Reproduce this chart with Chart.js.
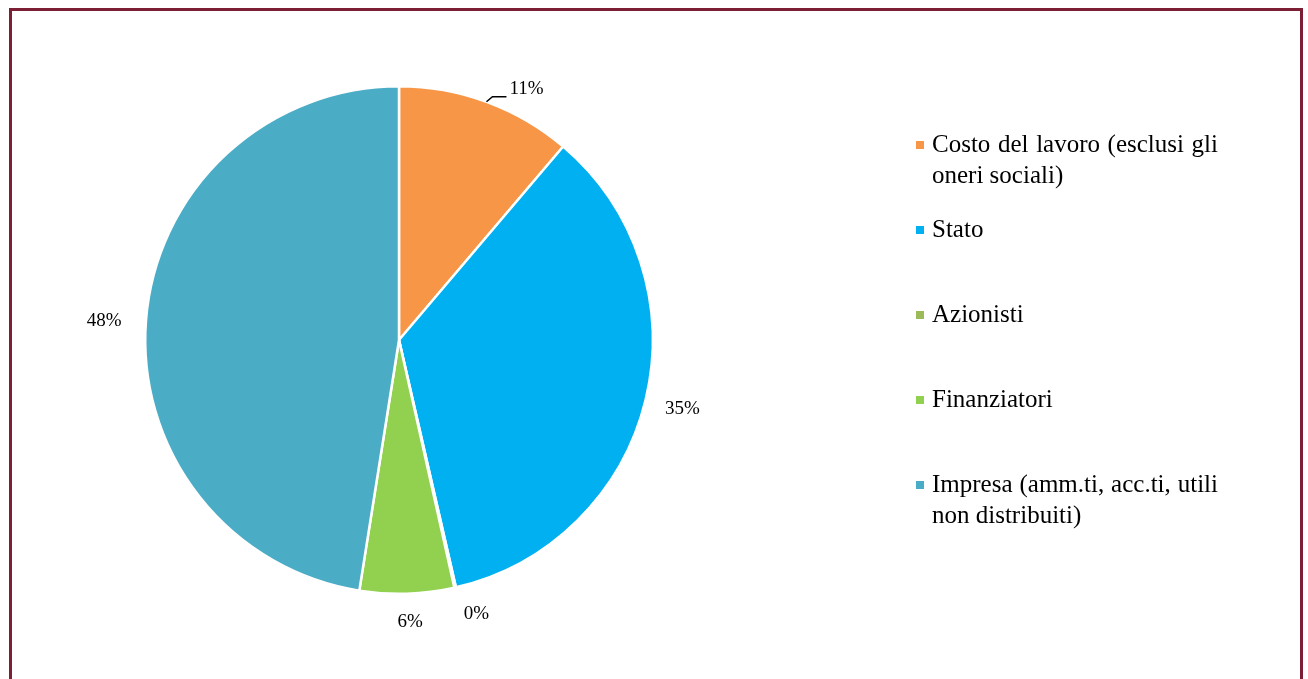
<!DOCTYPE html>
<html>
<head>
<meta charset="utf-8">
<script src="https://cdn.jsdelivr.net/npm/chart.js@4/dist/chart.umd.min.js"></script>
<style>
  html, body { margin: 0; padding: 0; background: #fff; overflow: hidden; }
  #frame {
    position: absolute; left: 9px; top: 8px;
    width: 1288px; height: 720px;
    border: 3px solid #7c1e34;
  }
  #pie { position: absolute; left: 0; top: 0; }
</style>
</head>
<body>
<div id="frame"></div>
<canvas id="pie" width="1308" height="679"></canvas>
<script>
// Chart data
const categories = [
  ['Costo del lavoro (esclusi gli', 'oneri sociali)'],
  ['Stato'],
  ['Azionisti'],
  ['Finanziatori'],
  ['Impresa (amm.ti, acc.ti, utili', 'non distribuiti)']
];
const shares = [11.2, 35.2, 0.1, 6.0, 47.5];
const sliceColors = ['#F79646', '#00B0F0', '#9BBB59', '#92D050', '#4BACC6'];

const FONT = '"Liberation Serif", "Times New Roman", serif';

/**
 * Percent labels around the pie
 */
const pctLabelsPlugin = {
  id: 'pctLabels',
  afterDatasetsDraw(chart, args, opts) {
    const ctx = chart.ctx;
    const meta = chart.getDatasetMeta(0);
    ctx.save();
    ctx.font = `19px ${FONT}`;
    ctx.fillStyle = '#000';
    ctx.textBaseline = 'middle';

    meta.data.forEach((arc, i) => {
      const p = arc.getProps(['x', 'y', 'startAngle', 'endAngle', 'outerRadius'], true);
      const mid = (p.startAngle + p.endAngle) / 2;
      const text = Math.round(shares[i]) + '%';

      if (i === opts.leaderIndex) {
        // label moved aside with a small leader line
        const ax = p.x + Math.cos(mid) * p.outerRadius;
        const ay = p.y + Math.sin(mid) * p.outerRadius;
        ctx.strokeStyle = '#000';
        ctx.lineWidth = 1.5;
        ctx.beginPath();
        ctx.moveTo(ax, ay);
        ctx.lineTo(ax + 6, ay - 5);
        ctx.lineTo(ax + 20, ay - 5);
        ctx.stroke();
        ctx.textAlign = 'left';
        ctx.fillText(text, ax + 23, ay - 13);
        return;
      }

      const off = opts.offsets[i] || [0, 0];
      const r = p.outerRadius + opts.distance;
      ctx.textAlign = 'center';
      ctx.fillText(text, p.x + Math.cos(mid) * r + off[0], p.y + Math.sin(mid) * r + off[1]);
    });
    ctx.restore();
  }
};

/**
 * Legend on the right, with wrapped, justified lines
 */
const sideLegendPlugin = {
  id: 'sideLegend',
  afterDraw(chart, args, opts) {
    const ctx = chart.ctx;
    ctx.save();
    ctx.font = `25px ${FONT}`;
    ctx.fillStyle = '#000';
    ctx.textBaseline = 'middle';
    ctx.textAlign = 'left';

    categories.forEach((lines, i) => {
      const y0 = opts.top + i * opts.step;
      ctx.fillStyle = sliceColors[i];
      ctx.fillRect(opts.left, y0 - 4, 8, 8);
      ctx.fillStyle = '#000';

      lines.forEach((line, j) => {
        const y = y0 + j * opts.lineHeight;
        const justify = j < lines.length - 1;
        if (!justify) {
          ctx.fillText(line, opts.textLeft, y);
          return;
        }
        const words = line.split(' ');
        const wordsW = words.reduce((s, w) => s + ctx.measureText(w).width, 0);
        const gap = (opts.width - wordsW) / (words.length - 1);
        let x = opts.textLeft;
        words.forEach(w => {
          ctx.fillText(w, x, y);
          x += ctx.measureText(w).width + gap;
        });
      });
    });
    ctx.restore();
  }
};

new Chart(document.getElementById('pie'), {
  type: 'pie',
  data: {
    labels: categories.map(l => l.join(' ')),
    datasets: [{
      data: shares,
      backgroundColor: sliceColors,
      borderColor: '#ffffff',
      borderWidth: 2.5
    }]
  },
  options: {
    responsive: false,
    animation: false,
    layout: { padding: { left: 144, right: 654, top: 85, bottom: 84 } },
    plugins: {
      legend: { display: false },
      tooltip: { enabled: false },
      pctLabels: {
        leaderIndex: 0,
        distance: 38,
        offsets: [[0, 0], [0, 0], [13, -11], [2, -10], [-4, 4]]
      },
      sideLegend: {
        left: 916, textLeft: 932, top: 145, step: 85, lineHeight: 31, width: 286
      }
    }
  },
  plugins: [pctLabelsPlugin, sideLegendPlugin]
});
</script>
</body>
</html>
